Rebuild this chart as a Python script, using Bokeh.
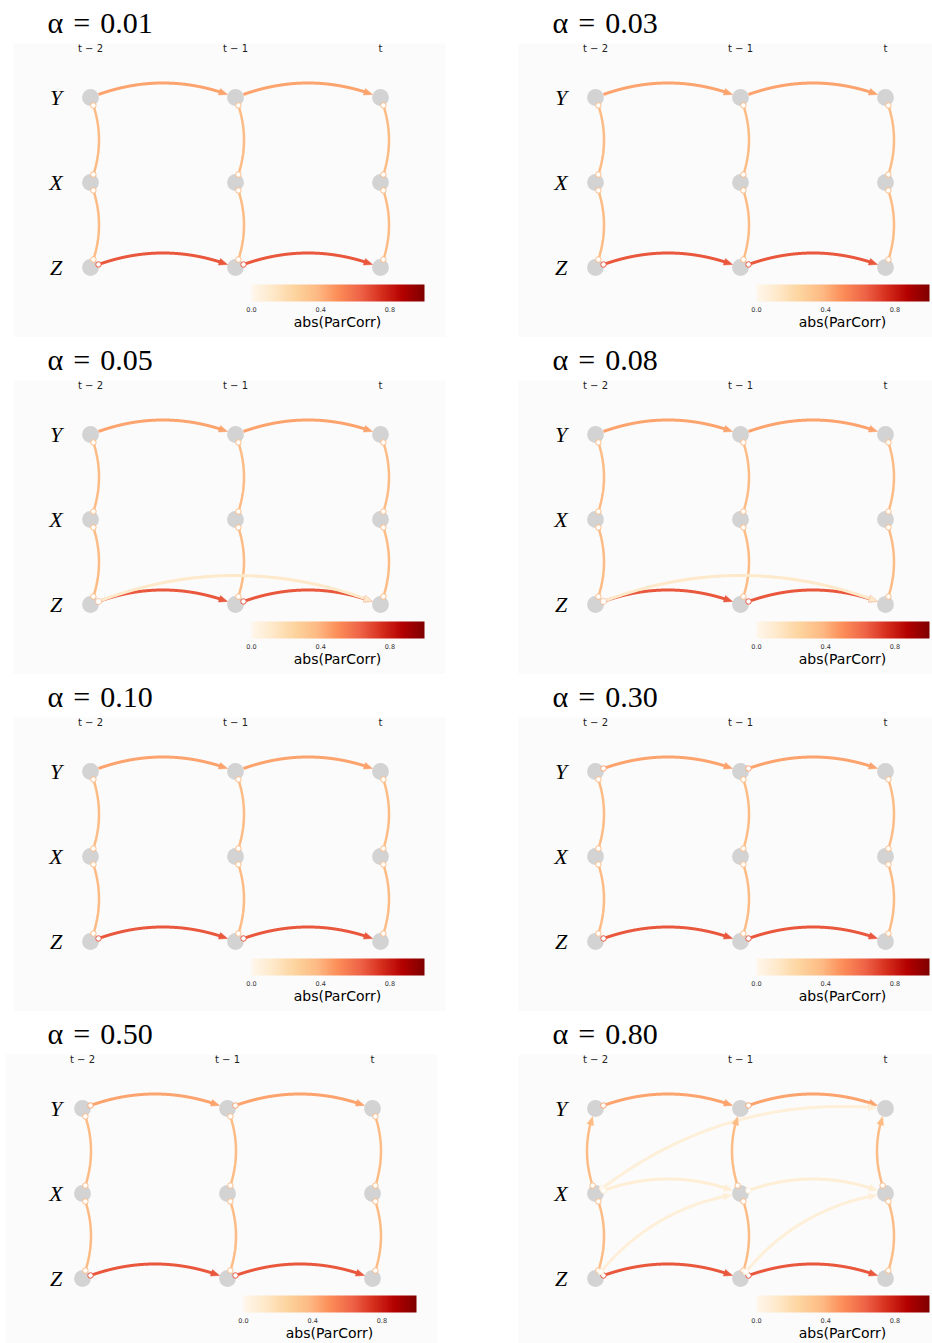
import numpy as np
from bokeh.plotting import figure
from bokeh.layouts import gridplot
from bokeh.models import (Range1d, ColumnDataSource, LinearColorMapper, ColorBar,
                          FixedTicker, PrintfTickFormatter)
from bokeh.transform import transform
from bokeh.palettes import OrRd9
from bokeh.core.properties import value
from bokeh.embed import file_html
from bokeh.resources import INLINE

# ---------------------------------------------------------------- data
ALPHAS = ["0.01", "0.03", "0.05", "0.08", "0.10", "0.30", "0.50", "0.80"]
VARIABLES = ["Z", "X", "Y"]            # row 0 (bottom) .. row 2 (top)
TIME_LABELS = ["t − 2", "t − 1", "t"]
CBAR_TICKS = [0.0, 0.4, 0.8]
CBAR_TITLE = "abs(ParCorr)"

# links present in every panel: source, target, lag, abs(ParCorr)
LINK_SRC = ["Y", "Z", "Y", "X"]
LINK_TGT = ["Y", "Z", "X", "Z"]
LINK_LAG = [1, 1, 0, 0]
LINK_VAL = [0.44, 0.66, 0.37, 0.37]
# edge type of those links in each panel
LINK_TYPE = {
    "0.01": ["-->", "o->", "o-o", "o-o"],
    "0.03": ["-->", "o->", "o-o", "o-o"],
    "0.05": ["-->", "o->", "o-o", "o-o"],
    "0.08": ["-->", "o->", "o-o", "o-o"],
    "0.10": ["-->", "o->", "o-o", "o-o"],
    "0.30": ["o->", "o->", "o-o", "o-o"],
    "0.50": ["o->", "o->", "o-o", "o-o"],
    "0.80": ["o->", "o->", "<-o", "o-o"],
}
# weak links only found at some alphas
EXTRA_PANEL = ["0.05", "0.08", "0.80", "0.80", "0.80"]
EXTRA_SRC = ["Z", "Z", "X", "X", "Z"]
EXTRA_TGT = ["Z", "Z", "Y", "X", "X"]
EXTRA_LAG = [2, 2, 2, 1, 1]
EXTRA_VAL = [0.12, 0.12, 0.07, 0.08, 0.07]
EXTRA_TYPE = ["o->", "o->", "o->", "o->", "o->"]

# ---------------------------------------------------------------- colours
_base = list(reversed(OrRd9))
_rgb = np.array([[int(c[k:k + 2], 16) for k in (1, 3, 5)] for c in _base], float)
_pos = np.linspace(0, 1, len(_base))
PALETTE = ['#%02x%02x%02x' % tuple(int(round(np.interp(t, _pos, _rgb[:, k]))) for k in range(3))
           for t in np.linspace(0, 1, 256)]

# ---------------------------------------------------------------- layout
SX, SY = 145.0, 85.0        # pixels per lag step / per variable row
RN = 8.4                    # node radius (px)
HL, HW = 8.5, 3.4           # arrow head length / half width (px)
RAD = 0.2                   # arc curvature
COL_X0 = [0, 466]
COL_W = 466
ROW_Y0 = [0, 337, 674, 1011]
ROW_H = [337, 337, 337, 332]


def curve(c0, r0, c1, r1):
    p0 = np.array([c0 * SX, r0 * SY])
    p1 = np.array([c1 * SX, r1 * SY])
    d = p1 - p0
    ctrl = (p0 + p1) / 2 + RAD * np.array([-d[1], d[0]])
    t = np.linspace(0, 1, 800)[:, None]
    pts = (1 - t) ** 2 * p0 + 2 * t * (1 - t) * ctrl + t ** 2 * p1
    d0 = np.hypot(*(pts - p0).T)
    d1 = np.hypot(*(pts - p1).T)
    i0 = int(np.argmax(d0 >= RN))
    i1 = len(pts) - 1 - int(np.argmax((d1 >= RN)[::-1]))
    return pts, i0, i1


def build_links(alpha):
    srcs, tgts, lags, vals, types = [], [], [], [], []
    for s, tg, l, v, ty in zip(LINK_SRC, LINK_TGT, LINK_LAG, LINK_VAL, LINK_TYPE[alpha]):
        srcs.append(s); tgts.append(tg); lags.append(l); vals.append(v); types.append(ty)
    for pnl, s, tg, l, v, ty in zip(EXTRA_PANEL, EXTRA_SRC, EXTRA_TGT, EXTRA_LAG, EXTRA_VAL, EXTRA_TYPE):
        if pnl == alpha:
            srcs.append(s); tgts.append(tg); lags.append(l); vals.append(v); types.append(ty)

    lines = dict(xs=[], ys=[], val=[], lw=[])
    heads = dict(xs=[], ys=[], val=[])
    circs = dict(x=[], y=[], val=[])
    for s, tg, l, v, ty in zip(srcs, tgts, lags, vals, types):
        if ty.startswith("<"):          # draw directed links from tail to head
            s, tg = tg, s
            ty = ty[2] + "->"
        rs, rt = VARIABLES.index(s), VARIABLES.index(tg)
        for c in range(0, 3 - l):
            pts, i0, i1 = curve(c, rs, c + l, rt)
            if ty[2] == ">":
                tip = pts[i1]
                dt = np.hypot(*(pts - tip).T)
                ok = np.where((dt >= HL) & (np.arange(len(pts)) < i1))[0]
                ib = int(ok.max())
                u = tip - pts[ib]
                u = u / np.linalg.norm(u)
                base = tip - u * HL
                nrm = np.array([-u[1], u[0]])
                tri = np.array([tip, base + nrm * HW, base - nrm * HW])
                heads["xs"].append(list(tri[:, 0] / SX))
                heads["ys"].append(list(tri[:, 1] / SY))
                heads["val"].append(v)
                seg = np.vstack([pts[i0:ib + 1], tip - u * (HL - 1.5)])
            else:
                seg = pts[i0:i1 + 1]
            lines["xs"].append(list(seg[:, 0] / SX))
            lines["ys"].append(list(seg[:, 1] / SY))
            lines["val"].append(v)
            lines["lw"].append(3.0 if l > 0 else 2.5)
            if ty[0] == "o":
                circs["x"].append(pts[i0][0] / SX); circs["y"].append(pts[i0][1] / SY); circs["val"].append(v)
            if ty[2] == "o":
                circs["x"].append(pts[i1][0] / SX); circs["y"].append(pts[i1][1] / SY); circs["val"].append(v)
    return lines, heads, circs


def make_panel(i, alpha):
    col, row = i % 2, i // 2
    fx0, W = COL_X0[col], COL_W
    fy0, H = ROW_Y0[row], ROW_H[row]
    cx0 = [90, 595][col] if not (row == 3 and col == 0) else 82
    ry = 97 + 337 * row
    rz = ry + 2 * SY
    title_x = [47, 552][col]
    label_x = [55.5, 560.5][col]

    def X(px):
        return (px - cx0) / SX

    def Y(py):
        return (rz - py) / SY

    p = figure(width=W, height=H, x_range=Range1d(X(fx0), X(fx0 + W)),
               y_range=Range1d(Y(fy0 + H), Y(fy0)), output_backend="svg",
               toolbar_location=None, x_axis_type=None, y_axis_type=None,
               min_border=0, outline_line_color=None,
               background_fill_color="white", border_fill_color="white")

    # faint panel background
    p.quad(left=[X(cx0 - 77)], right=[X(cx0 + 355)], bottom=[Y(ry + 243)], top=[Y(ry - 54)],
           fill_color="#fbfbfb", line_color=None)

    mapper = LinearColorMapper(palette=PALETTE, low=0, high=1)

    # nodes
    nx = [c for r in range(3) for c in range(3)]
    ny = [r for r in range(3) for c in range(3)]
    p.scatter(nx, ny, size=2 * RN, fill_color="#d3d3d3", line_color=None)

    lines, heads, circs = build_links(alpha)
    p.multi_line("xs", "ys", source=ColumnDataSource(lines),
                 line_color=transform("val", mapper), line_width="lw")
    p.patches("xs", "ys", source=ColumnDataSource(heads),
              fill_color=transform("val", mapper), line_color=transform("val", mapper), line_width=0.5)
    p.scatter("x", "y", source=ColumnDataSource(circs), size=5.5, fill_color="white",
              line_color=transform("val", mapper), line_width=1.0)

    # texts
    p.text(x=[X(title_x)], y=[Y(ry - 75)], text=[f"α\u2004=\u2004{alpha}"],
           text_font=value("Liberation Serif"), text_font_size="30px",
           text_align="left", text_baseline="middle", text_color="black")
    p.text(x=[X(label_x)] * 3, y=[0, 1, 2], text=VARIABLES,
           text_font=value("Liberation Serif"), text_font_style="italic",
           text_font_size="22px", text_align="center", text_baseline="middle", text_color="black")
    p.text(x=[0, 1, 2], y=[Y(ry - 49)] * 3, text=TIME_LABELS,
           text_font=value("DejaVu Sans"), text_font_size="10px",
           text_align="center", text_baseline="middle", text_color="#222222")
    p.text(x=[X(cx0 + 247)], y=[Y(ry + 224)], text=[CBAR_TITLE],
           text_font=value("DejaVu Sans"), text_font_size="14px",
           text_align="center", text_baseline="middle", text_color="black")

    cb = ColorBar(color_mapper=mapper, orientation="horizontal",
                  location=(cx0 + 161 - fx0, (fy0 + H) - (ry + 217)),
                  width=173, height=17, padding=0,
                  ticker=FixedTicker(ticks=CBAR_TICKS),
                  formatter=PrintfTickFormatter(format="%.1f"),
                  major_label_text_font_size="6.5px", major_label_text_color="#333333",
                  major_label_text_font="DejaVu Sans",
                  major_tick_line_color=None, minor_tick_line_color=None,
                  bar_line_color=None, border_line_color=None,
                  background_fill_alpha=0, label_standoff=5)
    p.add_layout(cb, "center")
    return p


panels = [make_panel(i, a) for i, a in enumerate(ALPHAS)]
grid = gridplot([panels[k:k + 2] for k in range(0, 8, 2)], toolbar_location=None)

open("out.html", "w").write(file_html(grid, INLINE))
